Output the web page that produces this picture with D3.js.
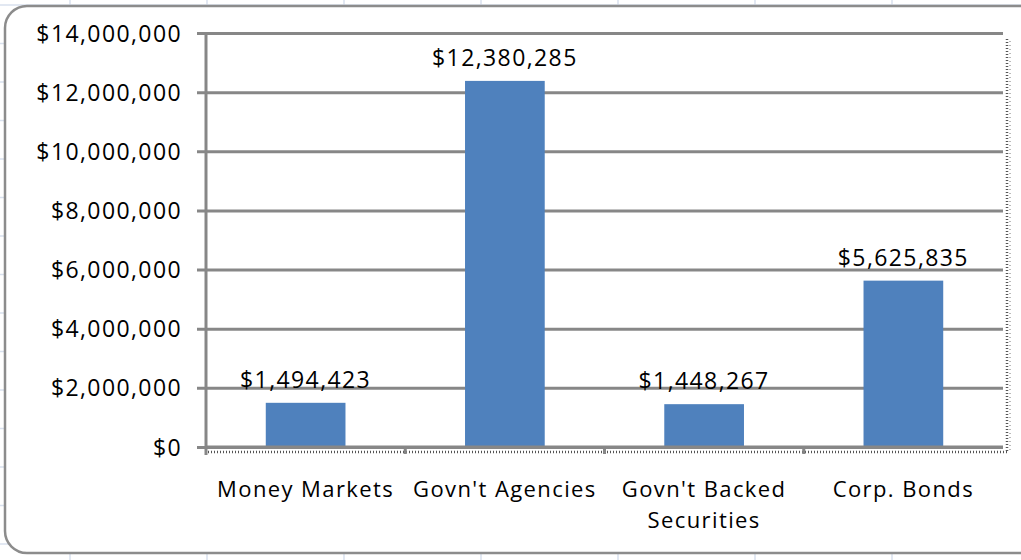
<!DOCTYPE html>
<html>
<head>
<meta charset="utf-8">
<script src="https://cdn.jsdelivr.net/npm/d3@7"></script>
<style>
  body { margin: 0; background: #fff; }
  svg { display: block; }
  text { font-family: "Open Sans", "Noto Sans", sans-serif; fill: #000; }
</style>
</head>
<body>
<script>
// chart data
var categories = ["Money Markets", "Govn't Agencies", "Govn't Backed Securities", "Corp. Bonds"];
var catLines = [["Money Markets"], ["Govn't Agencies"], ["Govn't Backed", "Securities"], ["Corp. Bonds"]];
var values = [1494423, 12380285, 1448267, 5625835];
var yTicks = [0, 2000000, 4000000, 6000000, 8000000, 10000000, 12000000, 14000000];

var W = 1021, H = 560;
var svg = d3.select("body").append("svg").attr("width", W).attr("height", H);

// spreadsheet cells behind the chart object
var sheet = svg.append("g").attr("stroke", "#d9e1ee").attr("stroke-width", 1.5);
d3.range(70, W, 137).forEach(function(x) {
  sheet.append("line").attr("x1", x).attr("x2", x).attr("y1", 0).attr("y2", H);
});
d3.range(5, H, 38.5).forEach(function(y) {
  sheet.append("line").attr("x1", 0).attr("x2", W).attr("y1", y).attr("y2", y);
});

// chart frame
svg.append("rect")
    .attr("x", 5).attr("y", 6).attr("width", 1040).attr("height", 547)
    .attr("rx", 22).attr("ry", 22)
    .attr("fill", "#fff").attr("stroke", "#8c8c8c").attr("stroke-width", 2.5);

var pLeft = 206, pRight = 1003, pTop = 33, pBottom = 447;

var x = d3.scaleBand().domain(categories).range([pLeft, pRight]).paddingInner(0.6).paddingOuter(0.3);
var y = d3.scaleLinear().domain([0, 14000000]).range([pBottom, pTop]);
var fmt = function(v) { return "$" + d3.format(",")(v); };

// gridlines + y ticks
var yAxis = d3.axisLeft(y).tickValues(yTicks).tickSize(-(pRight - pLeft)).tickSizeOuter(0).tickPadding(24).tickFormat(fmt);
var gy = svg.append("g").attr("transform", "translate(" + pLeft + ",0)").call(yAxis);
gy.select(".domain").remove();
gy.selectAll(".tick line").attr("x1", -9).attr("stroke", "#878787").attr("stroke-width", 3);
gy.selectAll(".tick text").style("font-size", "23px").attr("letter-spacing", "1.4px").attr("dy", "0.35em");

// y axis line
svg.append("line").attr("x1", pLeft).attr("x2", pLeft).attr("y1", pTop - 1).attr("y2", pBottom + 8)
    .attr("stroke", "#878787").attr("stroke-width", 3);

// selection dots along x axis and right edge
svg.append("line").attr("x1", pLeft + 2).attr("x2", pRight + 4).attr("y1", pBottom + 5).attr("y2", pBottom + 5)
    .attr("stroke", "#555").attr("stroke-width", 2.5).attr("stroke-dasharray", "1,2");
svg.append("line").attr("x1", pRight + 4).attr("x2", pRight + 4).attr("y1", pTop + 6).attr("y2", pBottom + 6)
    .attr("stroke", "#555").attr("stroke-width", 2.5).attr("stroke-dasharray", "1,2");
svg.append("line").attr("x1", pRight + 7).attr("x2", pRight + 7).attr("y1", pTop + 8).attr("y2", pBottom + 4)
    .attr("stroke", "#777").attr("stroke-width", 1).attr("stroke-dasharray", "1,3");

// bars
svg.append("g").selectAll("rect").data(values).enter().append("rect")
    .attr("x", function(d, i) { return x(categories[i]); })
    .attr("width", x.bandwidth())
    .attr("y", function(d) { return y(d); })
    .attr("height", function(d) { return pBottom - y(d); })
    .attr("fill", "#4f81bd");

// x axis line and category ticks
svg.append("line").attr("x1", pLeft).attr("x2", pRight).attr("y1", pBottom).attr("y2", pBottom)
    .attr("stroke", "#878787").attr("stroke-width", 3);
var step = x.step();
categories.slice(1).forEach(function(c) {
  var bx = x(c) - (step - x.bandwidth()) / 2;
  svg.append("line").attr("x1", bx).attr("x2", bx).attr("y1", pBottom).attr("y2", pBottom + 7)
      .attr("stroke", "#878787").attr("stroke-width", 3);
});

// data labels
svg.append("g").selectAll("text").data(values).enter().append("text")
    .attr("x", function(d, i) { return x(categories[i]) + x.bandwidth() / 2; })
    .attr("y", function(d) { return y(d) - 15; })
    .attr("text-anchor", "middle")
    .attr("letter-spacing", "1.4px")
    .style("font-size", "23px")
    .text(fmt);

// category labels
var cl = svg.append("g").selectAll("text").data(catLines).enter().append("text")
    .attr("x", function(d, i) { return x(categories[i]) + x.bandwidth() / 2; })
    .attr("y", 497)
    .attr("text-anchor", "middle")
    .attr("letter-spacing", "1.4px")
    .style("font-size", "22px");
cl.selectAll("tspan").data(function(d) { return d; }).enter().append("tspan")
    .attr("x", function() { return d3.select(this.parentNode).attr("x"); })
    .attr("dy", function(d, i) { return i ? 31 : 0; })
    .text(function(d) { return d; });
</script>
</body>
</html>
